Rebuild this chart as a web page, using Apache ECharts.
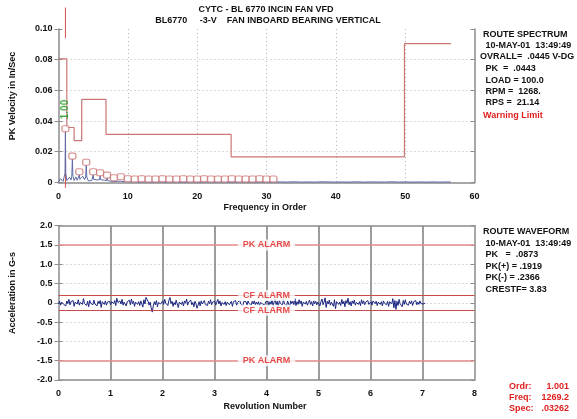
<!DOCTYPE html>
<html><head><meta charset="utf-8">
<script src="https://cdn.jsdelivr.net/npm/echarts@6/dist/echarts.min.js"></script>
<style>html,body{margin:0;padding:0;background:#fff}#c{width:577px;height:419px}</style>
</head><body><div id="c"></div>
<script>
// ---------- DATA ----------
// Route spectrum (orders vs PK velocity in/sec)
const specOrders = [0,0.15,0.3,0.45,0.65,0.85,0.95,1.0,1.05,1.2,1.4,1.6,1.8,1.92,2.0,2.08,2.25,2.5,2.7,2.92,3.0,3.08,3.25,3.5,3.75,3.92,4.0,4.08,4.3,4.55,4.8,4.93,5.0,5.07,5.3,5.55,5.8,5.93,6.0,6.07,6.35,6.6,6.93,7.0,7.07,7.5,7.93,8.0,8.07,8.5,8.93,9.0,9.07,9.5,10,10.5,11,11.5,12,12.5,13,13.5,14,14.5,15,15.5,16,16.5,17,17.5,18,18.5,19,19.5,20,20.5,21,21.5,22,22.5,23,23.5,24,24.5,25,25.5,26,26.5,27,27.5,28,28.5,29,29.5,30,30.5,31,32,33,34,35,36,37,38,39,40,41,42,43,44,45,46,47,48,49,50,51,52,53,54,55,56,56.6];
const specAmps = [0.0004,0.0010,0.0024,0.0012,0.0006,0.0015,0.0060,0.0330,0.0060,0.0012,0.0020,0.0034,0.0016,0.0040,0.0152,0.0040,0.0012,0.0036,0.0014,0.0020,0.0050,0.0020,0.0010,0.0040,0.0018,0.0035,0.0112,0.0035,0.0010,0.0022,0.0012,0.0020,0.0050,0.0020,0.0008,0.0016,0.0010,0.0018,0.0043,0.0018,0.0008,0.0014,0.0012,0.0028,0.0012,0.0008,0.0006,0.0011,0.0005,0.0007,0.0008,0.0017,0.0006,0.0005,0.0006,0.0003,0.0005,0.0002,0.0004,0.0003,0.0004,0.0002,0.0003,0.0003,0.0004,0.0002,0.0003,0.0003,0.0004,0.0002,0.0003,0.0002,0.0004,0.0003,0.0003,0.0002,0.0004,0.0003,0.0003,0.0002,0.0003,0.0003,0.0004,0.0002,0.0003,0.0002,0.0003,0.0003,0.0004,0.0002,0.0003,0.0002,0.0004,0.0003,0.0003,0.0002,0.0003,0.0003,0.0002,0.0004,0.0002,0.0003,0.0002,0.0004,0.0003,0.0002,0.0003,0.0002,0.0004,0.0002,0.0003,0.0003,0.0002,0.0004,0.0002,0.0003,0.0002,0.0003,0.0002,0.0003,0.0002,0.0003,0.0002];
// Harmonic peak markers
const harmonicOrders = [1,2,3,4,5,6,7,8,9,10,11,12,13,14,15,16,17,18,19,20,21,22,23,24,25,26,27,28,29,30,31];
const harmonicAmps = [0.0330,0.0152,0.0050,0.0112,0.0050,0.0043,0.0028,0.0011,0.0017,0.0004,0.0003,0.0004,0.0003,0.0003,0.0004,0.0003,0.0003,0.0004,0.0003,0.0003,0.0004,0.0003,0.0003,0.0003,0.0004,0.0003,0.0003,0.0003,0.0004,0.0003,0.0003];
const cursorLabel = '1.00';
// Warning limit envelope
const limitOrders = [0,1.2,1.2,2.25,2.25,3.35,3.35,6.85,6.85,24.9,24.9,49.9,49.9,56.6];
const limitAmps = [0.0805,0.0805,0.0358,0.0358,0.0272,0.0272,0.0541,0.0541,0.0313,0.0313,0.0167,0.0167,0.0905,0.0905];
// Cursor at order 1.00
const cursorOrder = 1.0;
const cursorAmps = [0.114,0.094,null,0.0345,-0.0035];
// Spectrum axis ticks
const specXMin = 0, specXMax = 60, specXStep = 10;
const specYMin = 0, specYMax = 0.10, specYStep = 0.02;

// Route waveform (revolutions vs acceleration G-s)
const waveRevEnd = 7.05;
const waveValues = [
-0.03,0.04,-0.06,0.02,0.07,-0.04,0.01,-0.08,0.05,-0.02,0.09,-0.05,0.03,-0.01,0.06,-0.09,0.02,0.04,-0.03,0.08,-0.06,0.01,0.05,-0.04,0.11,-0.02,0.03,-0.07,0.04,-0.10,0.06,-0.01,0.02,-0.05,0.07,-0.03,0.01,-0.08,0.04,-0.02,0.06,-0.12,0.03,0.00,-0.04,0.05,-0.06,0.02,-0.03,0.04,
-0.05,0.03,0.08,-0.02,0.06,-0.07,0.12,0.01,-0.04,0.05,-0.03,0.09,-0.06,0.02,0.04,-0.08,0.03,-0.01,0.07,-0.05,0.10,-0.02,0.04,-0.09,0.02,0.06,-0.04,0.03,-0.07,0.05,0.01,-0.11,0.08,-0.03,0.14,0.19,0.04,-0.06,0.02,-0.13,-0.24,-0.08,0.03,-0.05,0.06,-0.10,0.01,0.04,-0.03,0.02,
0.05,-0.04,0.09,-0.01,0.03,-0.07,0.06,0.14,-0.02,0.04,-0.09,0.01,-0.05,0.07,-0.03,-0.12,0.02,0.06,-0.04,0.03,-0.08,0.05,-0.01,0.10,-0.06,0.02,-0.03,0.07,-0.05,0.01,-0.10,0.04,-0.02,-0.14,-0.06,0.03,-0.08,0.05,-0.03,0.02,0.06,-0.04,0.01,-0.07,0.04,-0.02,0.08,-0.05,0.02,-0.03,
0.04,-0.06,0.02,0.09,-0.03,0.05,-0.08,0.01,0.06,-0.04,0.03,-0.07,0.02,0.05,-0.05,0.00,0.04,-0.09,0.03,-0.02,0.06,-0.06,0.01,-0.04,0.07,-0.03,0.02,-0.08,0.04,-0.01,0.03,-0.06,0.05,-0.02,0.01,-0.07,0.04,-0.03,0.06,-0.05,0.02,-0.04,0.03,-0.08,0.01,0.05,-0.03,0.02,-0.06,0.03,
-0.02,0.05,-0.07,0.03,-0.04,0.08,-0.09,0.02,0.10,-0.05,0.04,-0.13,0.07,-0.01,0.03,-0.06,0.09,-0.03,0.02,-0.08,0.05,0.01,-0.11,0.06,-0.02,0.04,-0.05,0.11,-0.07,0.03,-0.04,0.08,-0.02,0.05,-0.09,0.02,0.06,-0.03,0.04,-0.06,0.01,0.07,-0.04,0.03,-0.08,0.05,-0.02,0.04,-0.05,0.02,
0.06,-0.08,0.03,0.10,-0.05,0.02,0.13,-0.12,0.04,-0.03,0.07,-0.06,0.02,0.05,-0.09,0.08,-0.15,0.03,0.06,-0.04,0.02,-0.07,0.09,-0.03,0.04,-0.10,0.06,-0.01,0.12,-0.05,0.03,-0.08,0.05,-0.02,0.07,-0.06,0.01,0.04,-0.04,0.03,-0.07,0.08,-0.02,0.05,-0.05,0.02,-0.03,0.06,-0.04,0.01,
0.03,-0.06,0.05,0.09,-0.02,0.04,-0.07,0.02,0.06,-0.04,0.03,-0.08,0.05,-0.01,0.02,-0.05,0.04,-0.09,0.03,0.07,-0.03,0.11,-0.13,0.06,-0.17,0.04,-0.07,0.09,-0.02,0.03,-0.10,0.06,-0.04,0.08,-0.03,0.02,-0.06,0.04,-0.02,0.05,-0.07,0.03,-0.01,0.06,-0.05,0.02,-0.04,0.05,-0.02,0.03,
-0.03,0.02,-0.01];
const pkAlarms = [1.5,-1.5];
const cfAlarms = [0.19,-0.19];
const alarmLabelRev = 4;
const waveXMin = 0, waveXMax = 8, waveXStep = 1;
const waveYMin = -2, waveYMax = 2, waveYStep = 0.5;

// Info text
const specInfo = ['ROUTE SPECTRUM',' 10-MAY-01  13:49:49','OVRALL=  .0445 V-DG',' PK  =  .0443',' LOAD = 100.0',' RPM =  1268.',' RPS =  21.14'];
const waveInfo = ['ROUTE WAVEFORM',' 10-MAY-01  13:49:49',' PK   =  .0873',' PK(+) = .1919',' PK(-) = .2366',' CRESTF= 3.83'];
const cursorInfoLabels = ['Ordr:','Freq:','Spec:'];
const cursorInfoValues = ['1.001','1269.2','.03262'];

// ---------- CHART ----------
const FF = '"Liberation Sans", Arial, sans-serif';
const F9 = 'bold 9px ' + FF;
const axisGray = '#8c8c8c';
const limitColor = '#cc7676';
const red = '#e01e1e';
const lbl = {fontFamily: FF, fontWeight: 'bold', fontSize: 9, color: '#111'};

const chart = echarts.init(document.getElementById('c'), null, {renderer: 'canvas'});

const spectrumData = specOrders.map((o, i) => [o, specAmps[i]]);
const harmonicData = harmonicOrders.map((o, i) => {
  const d = {value: [o, harmonicAmps[i]]};
  if (o === cursorOrder) {
    d.label = {show: true, formatter: cursorLabel, rotate: 90, position: 'top', distance: 4, offset: [2, 0],
      align: 'left', verticalAlign: 'middle', color: '#1e9a1e', fontFamily: FF, fontWeight: 'bold', fontSize: 10};
  }
  return d;
});
const limitData = limitOrders.map((o, i) => [o, limitAmps[i]]);
const cursorData = cursorAmps.map(v => [cursorOrder, v]);
const waveDt = waveRevEnd / (waveValues.length - 1);
const waveData = waveValues.map((v, i) => [i * waveDt, v]);
const alarmLabels = pkAlarms.map(v => ({value: [alarmLabelRev, v], name: 'PK ALARM'}))
  .concat(cfAlarms.map(v => ({value: [alarmLabelRev, v], name: 'CF ALARM'})));

const gTop = {left: 58.5, top: 29, width: 416, height: 153.4};
const gBot = {left: 58.5, top: 225.7, width: 416, height: 154.3};

const specYFmt = v => v === 0 ? '0' : v.toFixed(2);
const waveYFmt = v => v === 0 ? '0' : v.toFixed(1);

const texts = [];
function t(x, y, text, opts) {
  texts.push(Object.assign({type: 'text', x: x, y: y, z: 100,
    style: Object.assign({text: text, font: F9, fill: '#111', textAlign: 'left', textVerticalAlign: 'middle'}, (opts && opts.style) || {})},
    opts && opts.rotation !== undefined ? {rotation: opts.rotation} : {}));
}
t(266, 10, 'CYTC - BL 6770 INCIN FAN VFD', {style: {textAlign: 'center'}});
t(268, 21, 'BL6770     -3-V    FAN INBOARD BEARING VERTICAL', {style: {textAlign: 'center'}});
t(13, 96, 'PK Velocity in In/Sec', {rotation: Math.PI / 2, style: {textAlign: 'center'}});
t(265, 208, 'Frequency in Order', {style: {textAlign: 'center'}});
t(13, 293, 'Acceleration in G-s', {rotation: Math.PI / 2, style: {textAlign: 'center'}});
t(265, 407, 'Revolution Number', {style: {textAlign: 'center'}});
const specInfoY = [35, 46, 57, 69, 81, 92, 103];
specInfo.forEach((s, i) => t(s.startsWith('OVRALL') ? 480 : 483, specInfoY[i], s));
t(483, 116, 'Warning Limit', {style: {fill: red}});
const waveInfoY = [232, 244, 255, 267, 278, 290];
waveInfo.forEach((s, i) => t(483, waveInfoY[i], s));
const curY = [387, 398, 409];
cursorInfoLabels.forEach((s, i) => t(509, curY[i], s, {style: {fill: red}}));
cursorInfoValues.forEach((s, i) => t(569, curY[i], s, {style: {fill: red, textAlign: 'right'}}));

const option = {
  animation: false,
  backgroundColor: '#fff',
  grid: [Object.assign({}, gTop), Object.assign({}, gBot)],
  xAxis: [
    {gridIndex: 0, type: 'value', min: specXMin, max: specXMax, interval: specXStep,
      axisLine: {show: true, onZero: false, lineStyle: {color: axisGray, width: 1.5}}, axisTick: {show: false},
      axisLabel: Object.assign({margin: 10}, lbl),
      splitLine: {show: true, showMinLine: false, showMaxLine: false, lineStyle: {color: '#b4b4b4', type: [1, 3], width: 1}}},
    {gridIndex: 1, type: 'value', min: waveXMin, max: waveXMax, interval: waveXStep,
      axisLine: {show: true, onZero: false, lineStyle: {color: axisGray, width: 1.5}}, axisTick: {show: false},
      axisLabel: Object.assign({margin: 9}, lbl),
      splitLine: {show: true, showMinLine: false, showMaxLine: false, lineStyle: {color: '#7c7c7c', width: 1.5}}},
    {gridIndex: 1, type: 'value', position: 'top', min: waveXMin, max: waveXMax, interval: waveXStep,
      axisLine: {show: true, onZero: false, lineStyle: {color: axisGray, width: 1.5}}, axisTick: {show: false},
      axisLabel: {show: false}, splitLine: {show: false}}
  ],
  yAxis: [
    {gridIndex: 0, type: 'value', min: specYMin, max: specYMax, interval: specYStep,
      axisLine: {show: true, onZero: false, lineStyle: {color: axisGray, width: 1.5}},
      axisTick: {show: true, length: 4, lineStyle: {color: axisGray}},
      axisLabel: Object.assign({margin: 6, formatter: specYFmt}, lbl),
      splitLine: {show: true, showMinLine: false, showMaxLine: false, lineStyle: {color: '#b4b4b4', type: [1, 3], width: 1}}},
    {gridIndex: 0, type: 'value', position: 'right', min: specYMin, max: specYMax, interval: specYStep,
      axisLine: {show: true, onZero: false, lineStyle: {color: axisGray, width: 1.5}},
      axisTick: {show: true, inside: true, length: 4, lineStyle: {color: axisGray}},
      axisLabel: {show: false}, splitLine: {show: false}},
    {gridIndex: 0, type: 'value', position: 'right', min: specYMin, max: specYMax, interval: specYStep,
      axisLine: {show: false},
      axisTick: {show: true, inside: false, length: 4, lineStyle: {color: axisGray}},
      axisLabel: {show: false}, splitLine: {show: false}},
    {gridIndex: 1, type: 'value', min: waveYMin, max: waveYMax, interval: waveYStep,
      axisLine: {show: true, onZero: false, lineStyle: {color: axisGray, width: 1.5}},
      axisTick: {show: true, length: 4, lineStyle: {color: axisGray}},
      axisLabel: Object.assign({margin: 6, formatter: waveYFmt}, lbl),
      splitLine: {show: true, showMinLine: false, showMaxLine: false, lineStyle: {color: '#b4b4b4', type: [1, 3], width: 1}}},
    {gridIndex: 1, type: 'value', position: 'right', min: waveYMin, max: waveYMax, interval: waveYStep,
      axisLine: {show: true, onZero: false, lineStyle: {color: axisGray, width: 1.5}},
      axisTick: {show: true, inside: true, length: 4, lineStyle: {color: axisGray}},
      axisLabel: {show: false}, splitLine: {show: false}},
    {gridIndex: 1, type: 'value', position: 'right', min: waveYMin, max: waveYMax, interval: waveYStep,
      axisLine: {show: false},
      axisTick: {show: true, inside: false, length: 4, lineStyle: {color: axisGray}},
      axisLabel: {show: false}, splitLine: {show: false}}
  ],
  series: [
    {name: 'limit', type: 'line', xAxisIndex: 0, yAxisIndex: 0, data: limitData, symbol: 'none',
      lineStyle: {color: limitColor, width: 1.2}, z: 3},
    {name: 'cursor', type: 'line', xAxisIndex: 0, yAxisIndex: 0, data: cursorData, symbol: 'none', clip: false,
      connectNulls: false, lineStyle: {color: '#d65050', width: 1}, z: 2},
    {name: 'spectrum', type: 'line', xAxisIndex: 0, yAxisIndex: 0, data: spectrumData, symbol: 'none',
      lineStyle: {color: '#5d6aa6', width: 1}, z: 4},
    {name: 'peaks', type: 'scatter', xAxisIndex: 0, yAxisIndex: 0, data: harmonicData, symbol: 'roundRect',
      symbolSize: [7, 6], symbolOffset: [0, -3],
      itemStyle: {color: '#fff', borderColor: limitColor, borderWidth: 1.2}, z: 6},
    {name: 'alarms', type: 'line', xAxisIndex: 1, yAxisIndex: 3, data: [], symbol: 'none',
      markLine: {silent: true, symbol: 'none', label: {show: false},
        data: pkAlarms.map(v => ({yAxis: v, lineStyle: {color: '#e48a8a', width: 1.6, type: 'solid'}}))
          .concat(cfAlarms.map(v => ({yAxis: v, lineStyle: {color: '#c84a4a', width: 1, type: 'solid'}})))}, z: 3},
    {name: 'waveform', type: 'line', xAxisIndex: 1, yAxisIndex: 3, data: waveData, symbol: 'none',
      lineStyle: {color: '#1b2580', width: 1}, z: 4},
    {name: 'alarmLabels', type: 'scatter', xAxisIndex: 1, yAxisIndex: 3, data: alarmLabels, symbolSize: 1,
      itemStyle: {color: 'rgba(0,0,0,0)'}, z: 7,
      label: {show: true, position: 'inside', formatter: p => p.name, color: red, fontFamily: FF, fontWeight: 'bold',
        fontSize: 9, backgroundColor: '#fff', padding: [1, 5]}}
  ],
  graphic: texts
};
chart.setOption(option);
</script>
</body></html>
